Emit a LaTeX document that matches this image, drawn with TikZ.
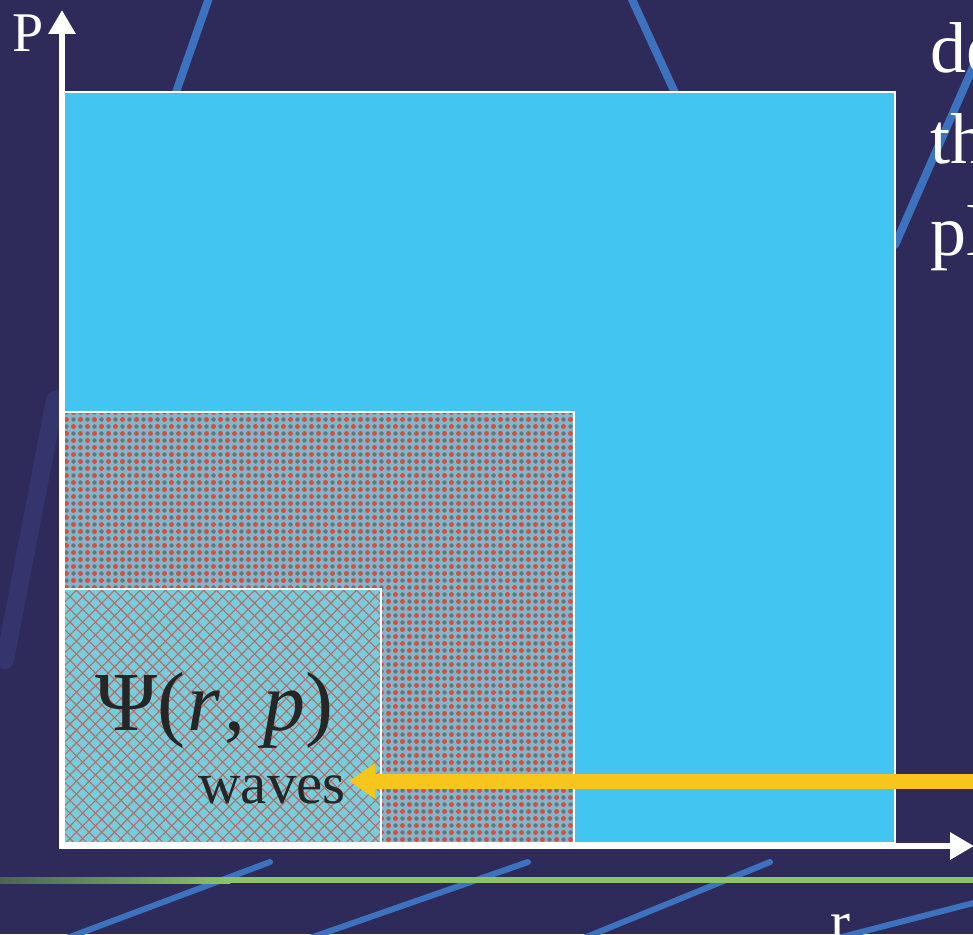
\documentclass[tikz,border=0pt]{standalone}
\usepackage{fontspec}
\setmainfont{Liberation Serif}
\usetikzlibrary{arrows.meta,patterns,patterns.meta,calc}
\definecolor{bgnavy}{HTML}{2E2A5A}
\definecolor{streak}{HTML}{3C72BE}
\definecolor{faint}{HTML}{4862B8}
\definecolor{sky}{HTML}{42C5F0}
\definecolor{dotbg}{HTML}{88B4C6}
\definecolor{dotred}{HTML}{D44E48}
\definecolor{dotgrey}{HTML}{5E7880}
\definecolor{hatchbg}{HTML}{76CEDC}
\definecolor{hatchred}{HTML}{B86A66}
\definecolor{gold}{HTML}{F8C51C}
\definecolor{grn}{HTML}{8CC36A}
\definecolor{grndark}{HTML}{4A6650}
\definecolor{ink}{HTML}{262626}
\pgfdeclarepatterninherentlycolored{mixdots}{\pgfpoint{-1pt}{-1pt}}{\pgfpoint{15pt}{15pt}}{\pgfpoint{14pt}{14pt}}{%
  \pgfsetfillcolor{dotred}%
  \pgfpathcircle{\pgfpoint{3.5pt}{3.5pt}}{2.5pt}%
  \pgfpathcircle{\pgfpoint{10.5pt}{10.5pt}}{2.5pt}%
  \pgfusepath{fill}%
  \pgfsetfillcolor{dotgrey}%
  \pgfpathcircle{\pgfpoint{10.5pt}{3.5pt}}{2.2pt}%
  \pgfpathcircle{\pgfpoint{3.5pt}{10.5pt}}{2.2pt}%
  \pgfusepath{fill}%
}
\tikzset{
  region/.style={draw=white, line width=1.4pt},
  axis/.style={draw=white, line width=6pt, -{Triangle[length=24pt,width=26pt]}},
  waveflow/.style={draw=gold, line width=15pt, -{Triangle[length=26pt,width=34pt]}},
  streakline/.style={draw=streak, line width=8pt, line cap=round},
  faintline/.style={draw=faint, line width=18pt, line cap=round, opacity=0.2},
  whitetxt/.style={text=white, inner sep=0pt},
  inktxt/.style={text=ink, inner sep=0pt},
}
\begin{document}
\begin{tikzpicture}[x=1pt,y=-1pt]
\useasboundingbox (0,0) rectangle (973,934);
\clip (0,0) rectangle (973,934);
\fill[bgnavy] (0,0) rectangle (973,934);
% background streaks
\draw[faintline] (55,400) -- (5,660);
\draw[streakline] (210,-5) -- (175,95);
\draw[streakline] (630,-5) -- (676,95);
\draw[streakline] (895,245) -- (985,40);
\draw[streakline, line width=6pt] (67,938) -- (270,862);
\draw[streakline, line width=6pt] (310,938) -- (528,862);
\draw[streakline, line width=6pt] (584,938) -- (770,862);
\draw[streakline, line width=6pt] (838,938) -- (985,900);
% regions
\fill[sky] (62,92) rectangle (895,843);
\draw[region] (62,92) rectangle (895,843);
\fill[dotbg] (62,412) rectangle (574,843);
\fill[pattern=mixdots] (62,412) rectangle (574,843);
\draw[region] (62,412) rectangle (574,843);
\fill[hatchbg] (62,589) rectangle (381,843);
\fill[pattern={Lines[angle=45,distance=9pt,line width=1.1pt]}, pattern color=hatchred] (62,589) rectangle (381,843);
\fill[pattern={Lines[angle=-45,distance=9pt,line width=1.1pt]}, pattern color=hatchred] (62,589) rectangle (381,843);
\draw[region] (62,589) rectangle (381,843);
% green rule
\shade[left color=grndark, right color=grn] (0,877) rectangle (230,883);
\fill[grn] (229,877) rectangle (973,883);
% axes
\coordinate (O) at (62,846);
\coordinate (ytop) at (62,10);
\coordinate (xend) at (974,846);
\draw[axis] ($(O)+(0,3)$) -- (ytop);
\draw[axis] ($(O)+(-3,0)$) -- (xend);
\node[whitetxt, font=\fontsize{56}{60}\selectfont, anchor=base] (P) at (28,52) {P};
\node[whitetxt, font=\fontsize{60}{60}\selectfont, anchor=base] (r) at (840,942) {r};
% labels in the small region
\node[inktxt, font=\fontsize{84}{90}\selectfont, anchor=base west] (psi) at (95,730) {Ψ(\kern2pt\textit{r}\kern4pt,\kern18pt\textit{p})};
\node[inktxt, font=\fontsize{59}{60}\selectfont, anchor=base east] (waves) at (346,803) {waves};
\coordinate (wavesrc) at (990,781);
\coordinate (wavetip) at ($(waves.east)+(3,0)$);
\draw[waveflow] (wavesrc) -- (wavetip |- wavesrc);
% right-hand text (cut by the edge)
\node[whitetxt, font=\fontsize{72}{92}\selectfont, anchor=base west] (l1) at (930,72) {de};
\node[whitetxt, font=\fontsize{72}{92}\selectfont, anchor=base west] (l2) at (930,163) {th};
\node[whitetxt, font=\fontsize{72}{92}\selectfont, anchor=base west] (l3) at (930,255) {pl};
\end{tikzpicture}
\end{document}
